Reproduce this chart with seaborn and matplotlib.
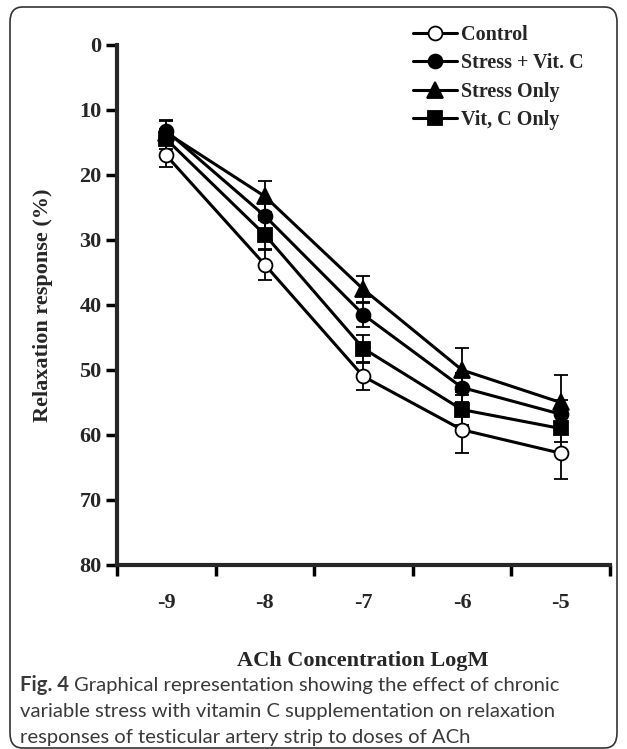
import numpy as np
import pandas as pd
import matplotlib
matplotlib.use("Agg")
import matplotlib.pyplot as plt
import seaborn as sns
from matplotlib.patches import FancyBboxPatch

# data
log_conc = [-9, -8, -7, -6, -5]
series_names = ["Control", "Stress + Vit. C", "Stress Only", "Vit, C Only"]
control = [17.0, 33.8, 51.0, 59.2, 62.8]
stress_vitc = [13.2, 26.3, 41.5, 52.7, 56.8]
stress_only = [13.5, 23.3, 37.6, 50.0, 55.0]
vitc_only = [14.5, 29.2, 46.7, 56.1, 59.0]
control_err = [1.8, 2.4, 2.1, 3.5, 3.9]
stress_vitc_err = [1.5, 2.0, 1.9, 2.2, 2.2]
stress_only_err = [1.9, 2.4, 2.1, 3.4, 4.2]
vitc_only_err = [1.5, 2.3, 2.1, 2.3, 2.1]
y_ticks = [0, 10, 20, 30, 40, 50, 60, 70, 80]

sns.set_style("ticks")
plt.rcParams['font.family'] = ['Liberation Serif', 'DejaVu Serif']

fig = plt.figure(figsize=(6.27, 7.49), dpi=100)
ax = fig.add_axes([0.1866, 0.2457, 0.786, 0.6943])

values = [control, stress_vitc, stress_only, vitc_only]
errors = [control_err, stress_vitc_err, stress_only_err, vitc_only_err]
markers = ["o", "o", "^", "s"]
faces = ["white", "black", "black", "black"]
sizes = [10, 10, 11, 9.5]

# error bars first so the markers sit on top
for vals, errs in zip(values, errors):
    ax.errorbar(log_conc, vals, yerr=errs, fmt="none", ecolor="black",
                elinewidth=1.3, capsize=5, capthick=1.3, zorder=1)

for name, vals, mk, fc, ms in zip(series_names, values, markers, faces, sizes):
    df = pd.DataFrame({"conc": log_conc, "resp": vals})
    sns.lineplot(data=df, x="conc", y="resp", ax=ax, color="black",
                 linewidth=2.2, marker=mk, markersize=ms,
                 markerfacecolor=fc, markeredgecolor="black",
                 markeredgewidth=1.3, label=name, zorder=3)

ax.set_xlim(-9.5, -4.5)
ax.set_ylim(80, 0)
ax.set_yticks(y_ticks)
ax.set_yticklabels([str(t) for t in y_ticks])

# category-style x axis: tick marks between categories, labels at centres
ax.set_xticks(np.arange(-9.5, -4.0, 1.0))
ax.set_xticklabels([])
ax.set_xticks(log_conc, minor=True)
ax.set_xticklabels([str(v) for v in log_conc], minor=True)
ax.tick_params(axis="x", which="minor", length=0, pad=20)
ax.tick_params(axis="both", which="major", length=8, width=2.5,
               direction="out", color="black")
ax.tick_params(axis="y", pad=3)

for lab in ax.get_xticklabels(minor=True) + ax.get_yticklabels():
    lab.set_fontsize(16)
    lab.set_fontweight("bold")

sns.despine(ax=ax)
ax.spines["left"].set_linewidth(3)
ax.spines["bottom"].set_linewidth(3)

ax.set_xlabel("")
ax.set_ylabel("")
fig.text(43 / 627, 1 - 305 / 749, "Relaxation response (%)", rotation=90,
         ha="center", va="center", fontsize=16, fontweight="bold")
fig.text(363 / 627, 1 - 661 / 749, "ACh Concentration LogM",
         ha="center", va="center", fontsize=16, fontweight="bold")

leg = ax.legend(loc="upper left", bbox_to_anchor=(403 / 627, 1 - 15 / 749),
                bbox_transform=fig.transFigure, frameon=False,
                prop={"family": "Liberation Serif", "weight": "bold", "size": 14.5},
                handlelength=2.2, handletextpad=0.2, labelspacing=0.41,
                borderpad=0)

# caption below the chart
cap_font = "Lato"
cap_color = "#3a3a3a"
cap_size = 14.6
renderer = fig.canvas.get_renderer()
t_bold = fig.text(20 / 627, 1 - 685 / 749, "Fig. 4", family=cap_font,
                  fontweight="bold", fontsize=cap_size, va="center", ha="left",
                  color=cap_color)
bb = t_bold.get_window_extent(renderer=renderer)
x_after = (bb.x1 + 5) / fig.bbox.width
fig.text(x_after, 1 - 685 / 749,
         "Graphical representation showing the effect of chronic",
         family=cap_font, fontsize=cap_size, va="center", ha="left",
         color=cap_color)
fig.text(20 / 627, 1 - 711 / 749,
         "variable stress with vitamin C supplementation on relaxation",
         family=cap_font, fontsize=cap_size, va="center", ha="left",
         color=cap_color)
fig.text(20 / 627, 1 - 737 / 749,
         "responses of testicular artery strip to doses of ACh",
         family=cap_font, fontsize=cap_size, va="center", ha="left",
         color=cap_color)

border = FancyBboxPatch((10 / 627, 1 / 749), 607 / 627, 741 / 749,
                        boxstyle="round,pad=0,rounding_size=0.02",
                        transform=fig.transFigure, fill=False,
                        edgecolor="#333333", linewidth=1.2)
fig.patches.append(border)

fig.savefig("out.png", dpi=100)
